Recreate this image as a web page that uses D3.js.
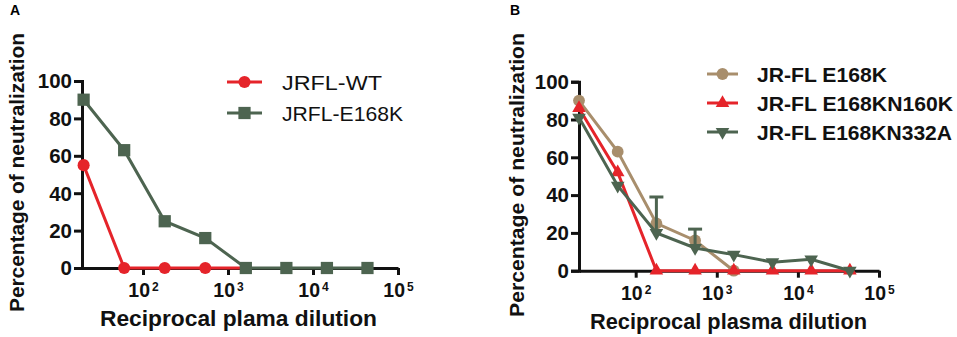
<!DOCTYPE html>
<html>
<head>
<meta charset="utf-8">
<script src="https://cdn.jsdelivr.net/npm/d3@7"></script>
<style>
  body { margin: 0; background: #fff; }
  svg { display: block; font-family: "Liberation Sans", Arial, sans-serif; }
</style>
</head>
<body>
<svg id="chart" width="957" height="337"></svg>
<script>
// DATA
const dilutions = [20, 60, 180, 540, 1620, 4860, 14580, 43740];
const yTicks = [0, 20, 40, 60, 80, 100];
const xTickExps = [2, 3, 4, 5];

// panel A
const namesA = ["JRFL-WT", "JRFL-E168K"];
const wtA = [55, 0, 0, 0, 0];
const e168kA = [90, 63, 25, 16, 0, 0, 0, 0];

// panel B
const namesB = ["JR-FL E168K", "JR-FL E168KN160K", "JR-FL E168KN332A"];
const e168kB = [90, 63, 25, 16, 0];
const n160kB = [86, 52, 0, 0, 0, 0, 0, 0];
const n332aB = [81, 45, 20, 12, 8.5, 4.5, 6, 0];
const n332aErrUp = [0, 0, 19, 10, 0, 0, 0, 0];

const RED = "#e5242a", GREEN = "#4d6450", TAN = "#a88e6c";

const svg = d3.select("#chart");
svg.append("rect").attr("width", 957).attr("height", 337).attr("fill", "#fff");

function drawPanel(p) {
  const x = d3.scaleLog().domain(p.xDomain).range([p.left, p.right]);
  const y = d3.scaleLinear().domain([0, 100]).range(p.yRange);
  const g = svg.append("g");

  // panel letter
  g.append("text")
    .attr("x", p.letterX).attr("y", 15)
    .attr("font-size", 14).attr("font-weight", "bold")
    .text(p.letter);

  // y axis
  const gy = g.append("g")
    .attr("transform", `translate(${p.left},0)`)
    .call(d3.axisLeft(y).tickValues(yTicks).tickSize(8).tickSizeOuter(8));
  gy.selectAll("text").remove();
  gy.selectAll(".tick").append("text")
    .attr("text-anchor", "end")
    .attr("dy", "0.35em")
    .attr("transform", "translate(-10,0) scale(1.05,1)")
    .attr("font-size", 19.5).attr("font-weight", "bold").attr("fill", "#111")
    .text((d) => d);

  // x axis
  const gx = g.append("g")
    .attr("transform", `translate(0,${p.yRange[0]})`)
    .call(d3.axisBottom(x)
      .tickValues(xTickExps.map((e) => Math.pow(10, e)))
      .tickFormat("")
      .tickSize(7).tickSizeOuter(0));
  const lbl = gx.selectAll(".tick").append("text")
    .attr("text-anchor", "middle")
    .attr("transform", "translate(0,29)")
    .attr("font-weight", "bold").attr("fill", "#111");
  lbl.append("tspan").attr("font-size", 19.5).text("10");
  lbl.append("tspan").attr("font-size", 12).attr("dx", 2).attr("dy", -6)
    .text((d) => Math.round(Math.log10(d)));

  [gx, gy].forEach((a) => {
    a.select(".domain").attr("stroke", "#111").attr("stroke-width", 3);
    a.selectAll(".tick line").attr("stroke", "#111").attr("stroke-width", 3);
  });

  // axis titles
  g.append("text")
    .attr("transform", `translate(${p.ylabX},${p.ylabY}) rotate(-90)`)
    .attr("text-anchor", "middle").attr("dy", "0.35em")
    .attr("font-size", 21).attr("font-weight", "bold").attr("fill", "#111")
    .attr("textLength", p.ylabLen).attr("lengthAdjust", "spacingAndGlyphs")
    .text("Percentage of neutralization");
  g.append("text")
    .attr("x", p.xlabX).attr("y", p.xlabY)
    .attr("font-size", 22).attr("font-weight", "bold").attr("fill", "#111")
    .attr("textLength", 277).attr("lengthAdjust", "spacingAndGlyphs")
    .text(p.xlab);

  // series
  const line = d3.line().x((d) => x(d[0])).y((d) => y(d[1]));
  p.series.forEach((s) => {
    const pts = s.values.map((v, i) => [dilutions[i], v]);
    const sg = g.append("g");
    if (s.err) {
      pts.forEach((d, i) => {
        if (!s.err[i]) return;
        const cx = x(d[0]), top = y(d[1] + s.err[i]);
        sg.append("line").attr("x1", cx).attr("x2", cx)
          .attr("y1", y(d[1])).attr("y2", top)
          .attr("stroke", s.color).attr("stroke-width", 3);
        sg.append("line").attr("x1", cx - 7).attr("x2", cx + 7)
          .attr("y1", top).attr("y2", top)
          .attr("stroke", s.color).attr("stroke-width", 3);
      });
    }
    sg.append("path").datum(pts)
      .attr("d", line).attr("fill", "none")
      .attr("stroke", s.color).attr("stroke-width", 3);
    sg.selectAll(".m").data(pts).join("path")
      .attr("transform", (d) => `translate(${x(d[0])},${y(d[1])})${s.rot ? " rotate(180)" : ""}`)
      .attr("d", d3.symbol().type(s.symbol).size(s.size))
      .attr("fill", s.color);
  });

  // legend
  p.series.forEach((s, i) => {
    const ly = p.legY[i];
    g.append("line")
      .attr("x1", p.legX0).attr("x2", p.legX1)
      .attr("y1", ly).attr("y2", ly)
      .attr("stroke", s.color).attr("stroke-width", 3);
    g.append("path")
      .attr("transform", `translate(${(p.legX0 + p.legX1) / 2},${ly})${s.rot ? " rotate(180)" : ""}`)
      .attr("d", d3.symbol().type(s.symbol).size(s.size))
      .attr("fill", s.color);
    g.append("text")
      .attr("x", p.legTextX).attr("y", ly + 7.5)
      .attr("font-size", 21).attr("font-weight", p.legWeight).attr("fill", "#111")
      .attr("textLength", p.legLens[i]).attr("lengthAdjust", "spacingAndGlyphs")
      .text(s.name);
  });
}

drawPanel({
  letter: "A", letterX: 10,
  left: 82, right: 398, xDomain: [Math.pow(10, 1.282), 1e5], yRange: [268, 81],
  ylabX: 17, ylabY: 172.5, ylabLen: 279,
  xlabX: 100, xlabY: 326, xlab: "Reciprocal plama dilution",
  legX0: 227, legX1: 262, legTextX: 282, legY: [82, 113],
  legWeight: "normal", legLens: [100, 121],
  series: [
    { name: namesA[0], values: wtA, color: RED, symbol: d3.symbolCircle, size: 115 },
    { name: namesA[1], values: e168kA, color: GREEN, symbol: d3.symbolSquare, size: 150 },
  ],
});

drawPanel({
  letter: "B", letterX: 510,
  left: 579, right: 879, xDomain: [20, 1e5], yRange: [270.7, 81.7],
  ylabX: 517, ylabY: 175, ylabLen: 284,
  xlabX: 590, xlabY: 329, xlab: "Reciprocal plasma dilution",
  legX0: 707, legX1: 738, legTextX: 757, legY: [74, 103, 132],
  legWeight: "bold", legLens: [130, 196, 195],
  series: [
    { name: namesB[0], values: e168kB, color: TAN, symbol: d3.symbolCircle, size: 110 },
    { name: namesB[1], values: n160kB, color: RED, symbol: d3.symbolTriangle, size: 80 },
    { name: namesB[2], values: n332aB, err: n332aErrUp, color: GREEN, symbol: d3.symbolTriangle, size: 80, rot: true },
  ],
});
</script>
</body>
</html>
